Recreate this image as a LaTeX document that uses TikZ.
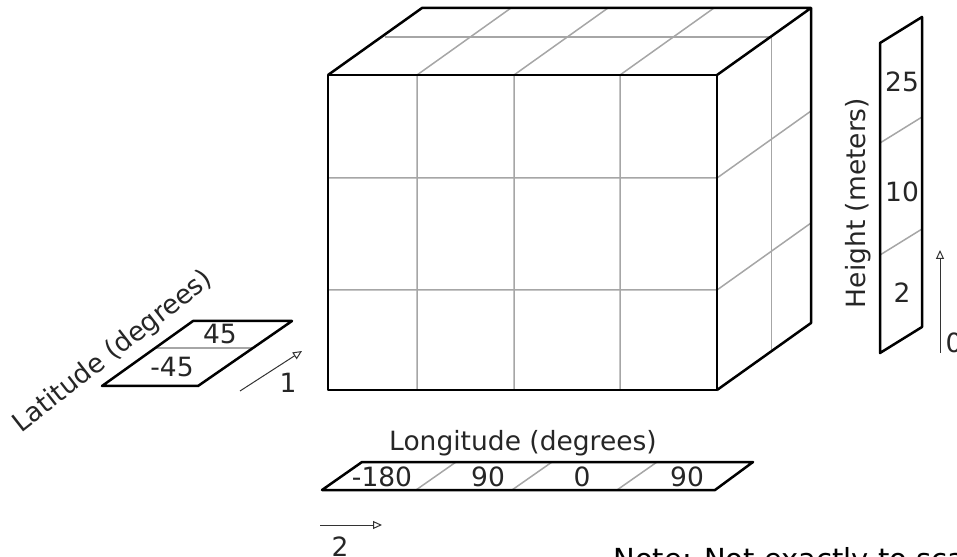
\documentclass[tikz,border=0pt]{standalone}
\usepackage{fontspec}
\setmainfont{DejaVu Sans}
\usetikzlibrary{arrows.meta}
\tikzset{
  edge/.style={line width=1pt,black,line join=round},
  gridline/.style={line width=0.6pt,black!35},
  dirarrow/.style={line width=0.4pt,black!80,-{Triangle[open,length=3.6pt,width=3.2pt]}},
  lbl/.style={font=\fontsize{10.6}{12}\selectfont,inner sep=0pt,text=black!85},
}
\begin{document}
\begin{tikzpicture}[x=0.4pt,y=-0.4pt]
\useasboundingbox (0,0) rectangle (957,557);
% cube, grid first
\foreach \gx/\tx in {417/511,514/608,620/714} {
  \draw[gridline] (\gx,390) -- (\gx,75) -- (\tx,8);
}
\foreach \gy/\ty in {178/111,290/223} {
  \draw[gridline] (328,\gy) -- (717,\gy) -- (811,\ty);
}
\draw[gridline] (385,37) -- (771.5,37) -- (771.5,351);
% cube edges
\draw[edge] (328,75) rectangle (717,390);
\draw[edge] (328,75) -- (422,8) -- (811,8) -- (717,75);
\draw[edge] (811,8) -- (811,323) -- (717,390);
% latitude
\draw[gridline] (155,348) -- (253,348);
\draw[edge] (102,386) -- (198,386) -- (292,321) -- (193,321) -- cycle;
\node[lbl] (lat45) at (220,334) {45};
\node[lbl] (latm45) at (172,367) {-45};
\node[lbl,rotate=38] (latname) at (113,352) {Latitude (degrees)};
\coordinate (a1s) at (240,391);
\coordinate (a1e) at (302,351);
\draw[dirarrow] (a1s) -- (a1e);
\node[lbl] (dim1) at (288,383) {1};
% longitude
\foreach \bx in {416,512,617} {
  \draw[gridline] (\bx,490) -- (\bx+40,462);
}
\draw[edge] (322,490) -- (715,490) -- (753,462) -- (362,462) -- cycle;
\node[lbl] (lonm180) at (382,477) {-180};
\node[lbl] (lon90a) at (488,477) {90};
\node[lbl] (lon0) at (582,477) {0};
\node[lbl] (lon90b) at (687,477) {90};
\node[lbl] (lonname) at (523,443) {Longitude (degrees)};
\coordinate (a2s) at (320,525);
\coordinate (a2e) at (382,525);
\draw[dirarrow] (a2s) -- (a2e);
\node[lbl] (dim2) at (340,547) {2};
% height
\draw[gridline] (880,143) -- (922,117);
\draw[gridline] (880,255) -- (922,229);
\draw[edge] (880,43) -- (922,17) -- (922,327) -- (880,353) -- cycle;
\node[lbl] (h25) at (902,82) {25};
\node[lbl] (h10) at (902,192) {10};
\node[lbl] (h2) at (902,293) {2};
\node[lbl,rotate=90] (hname) at (858,203) {Height (meters)};
\coordinate (a0s) at (940,353);
\coordinate (a0e) at (940,250);
\draw[dirarrow] (a0s) -- (a0e);
\node[lbl,anchor=west] (dim0) at (945,343) {0};
% note, cut by the page edge
\node[lbl,anchor=base west,font=\fontsize{11.6}{13}\selectfont,text=black] (note) at (613,569) {Note: Not exactly to scale};
\end{tikzpicture}
\end{document}
